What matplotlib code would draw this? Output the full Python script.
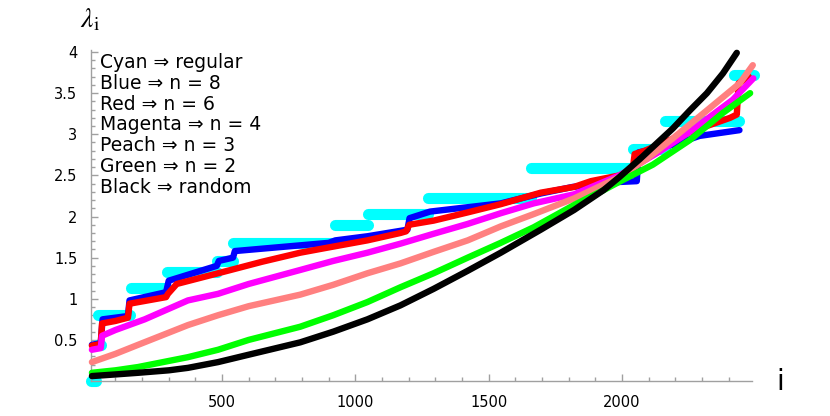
import matplotlib
matplotlib.use('Agg')
import matplotlib.pyplot as plt
import numpy as np

# Cyan (regular): flat plateaus as start / end / level
cyan_start = [10, 30, 35, 160, 293, 481, 541, 925, 1047, 1272, 1658, 2040, 2160, 2420]
cyan_end = [27, 45, 155, 293, 481, 541, 925, 1047, 1272, 1658, 2040, 2160, 2440, 2495]
cyan_level = [0.00, 0.44, 0.80, 1.13, 1.33, 1.46, 1.68, 1.90, 2.03, 2.23, 2.59, 2.82, 3.16, 3.72]

# Blue (n = 8)
blue_x = [12, 45, 52, 147, 153, 290, 300, 480, 488, 541, 548, 900, 925, 1045, 1195, 1203,
          1280, 1545, 1695, 1815, 1990, 2055, 2062, 2200, 2290, 2440]
blue_y = [0.44, 0.46, 0.75, 0.79, 0.98, 1.08, 1.22, 1.40, 1.46, 1.50, 1.58, 1.68, 1.71, 1.76,
          1.84, 1.98, 2.06, 2.16, 2.28, 2.36, 2.42, 2.43, 2.78, 2.88, 2.98, 3.05]

# Red (n = 6)
red_x = [12, 45, 50, 100, 147, 153, 290, 297, 330, 485, 650, 793, 876, 1045, 1169, 1190, 1202,
         1293, 1421, 1545, 1695, 1820, 1883, 1990, 2040, 2047, 2085, 2200, 2300, 2405, 2430,
         2437, 2475]
red_y = [0.43, 0.45, 0.70, 0.73, 0.77, 0.94, 1.02, 1.06, 1.18, 1.31, 1.45, 1.56, 1.61, 1.71,
         1.80, 1.82, 1.90, 1.95, 2.05, 2.15, 2.29, 2.36, 2.43, 2.50, 2.58, 2.76, 2.80, 2.96,
         3.08, 3.20, 3.24, 3.62, 3.70]

# Magenta (n = 4)
magenta_x = [12, 45, 50, 100, 210, 372, 485, 600, 793, 917, 1045, 1169, 1293, 1421, 1545,
             1669, 1820, 1990, 2135, 2254, 2415, 2492]
magenta_y = [0.38, 0.40, 0.55, 0.62, 0.75, 0.98, 1.06, 1.18, 1.35, 1.46, 1.56, 1.67, 1.79,
             1.91, 2.04, 2.16, 2.27, 2.50, 2.78, 3.03, 3.42, 3.68]

# Peach (n = 3)
peach_x = [12, 100, 185, 372, 485, 600, 793, 917, 1045, 1169, 1293, 1421, 1545, 1669, 1820,
           1990, 2092, 2190, 2318, 2441, 2490]
peach_y = [0.23, 0.33, 0.44, 0.68, 0.80, 0.91, 1.05, 1.17, 1.31, 1.43, 1.57, 1.71, 1.88, 2.03,
           2.22, 2.48, 2.70, 2.95, 3.29, 3.62, 3.84]

# Green (n = 2)
green_x = [12, 100, 185, 372, 485, 600, 793, 917, 1045, 1169, 1293, 1421, 1545, 1669, 1820,
           1930, 2000, 2115, 2254, 2378, 2480]
green_y = [0.10, 0.13, 0.17, 0.29, 0.38, 0.50, 0.66, 0.80, 0.96, 1.14, 1.31, 1.50, 1.68, 1.87,
           2.14, 2.32, 2.44, 2.63, 2.93, 3.26, 3.50]

# Black (random)
black_x = [12, 100, 185, 300, 372, 485, 600, 793, 917, 1045, 1169, 1293, 1421, 1545, 1695,
           1820, 1930, 1990, 2067, 2130, 2190, 2254, 2318, 2378, 2430]
black_y = [0.06, 0.08, 0.10, 0.13, 0.16, 0.23, 0.32, 0.47, 0.60, 0.75, 0.92, 1.12, 1.34, 1.56,
           1.84, 2.08, 2.32, 2.48, 2.70, 2.89, 3.07, 3.29, 3.50, 3.74, 3.99]

legend_lines = ['Cyan ⇒ regular', 'Blue ⇒ n = 8', 'Red ⇒ n = 6', 'Magenta ⇒ n = 4',
                'Peach ⇒ n = 3', 'Green ⇒ n = 2', 'Black ⇒ random']

x_major = [500, 1000, 1500, 2000]
y_major = [0.5, 1, 1.5, 2, 2.5, 3, 3.5, 4]
y_major_labels = ['0.5', '1', '1.5', '2', '2.5', '3', '3.5', '4']


def main():
    plt.rcParams['font.family'] = ['DejaVu Sans']
    plt.rcParams['mathtext.fontset'] = 'stix'

    fig = plt.figure(figsize=(8.3, 4.16), dpi=100)
    ax = fig.add_axes([0.1101, 0.0841, 0.7956, 0.7948])

    lw = 4.6
    style = dict(lw=lw, solid_capstyle='round', solid_joinstyle='round', clip_on=False)
    ax.hlines(cyan_level, cyan_start, cyan_end, colors='#00ffff', lw=8.0,
              capstyle='round', clip_on=False, zorder=2)
    ax.plot(blue_x, blue_y, color='#0000ff', zorder=3, **style)
    ax.plot(red_x, red_y, color='#ff0000', zorder=4, **style)
    ax.plot(magenta_x, magenta_y, color='#ff00ff', zorder=5, **style)
    ax.plot(peach_x, peach_y, color='#ff8080', zorder=6, **style)
    ax.plot(green_x, green_y, color='#00ff00', zorder=7, **style)
    ax.plot(black_x, black_y, color='black', zorder=8, **style)

    ax.set_xlim(10, 2486)
    ax.set_ylim(0, 4.02)

    for side in ['top', 'right']:
        ax.spines[side].set_visible(False)
    for side in ['left', 'bottom']:
        ax.spines[side].set_color('#a0a0a0')
        ax.spines[side].set_linewidth(1.0)

    ax.set_xticks(x_major, [str(v) for v in x_major])
    ax.set_yticks(y_major, y_major_labels)
    ax.set_xticks(np.arange(100, 2500, 100), minor=True)
    ax.set_yticks(np.arange(0.1, 4.01, 0.1), minor=True)
    ax.tick_params(which='both', direction='in', color='#a0a0a0', width=1.0)
    ax.tick_params(which='major', length=5, labelsize=10.5)
    ax.tick_params(axis='x', which='major', pad=10)
    ax.tick_params(axis='y', which='major', pad=10)
    ax.tick_params(which='minor', length=3)

    # axis labels, Mathematica-style placement
    fig.text(80 / 830, 1 - 27 / 416, r'$\lambda_{\mathrm{i}}$', fontsize=20,
             ha='left', va='baseline')
    fig.text(776 / 830, 1 - 390 / 416, 'i', fontsize=20, ha='left', va='baseline')

    for k, line in enumerate(legend_lines):
        fig.text(100 / 830, 1 - (68 + 20.8 * k) / 416, line, fontsize=13.5,
                 ha='left', va='baseline')

    fig.savefig('out.png', dpi=100)


if __name__ == '__main__':
    main()
